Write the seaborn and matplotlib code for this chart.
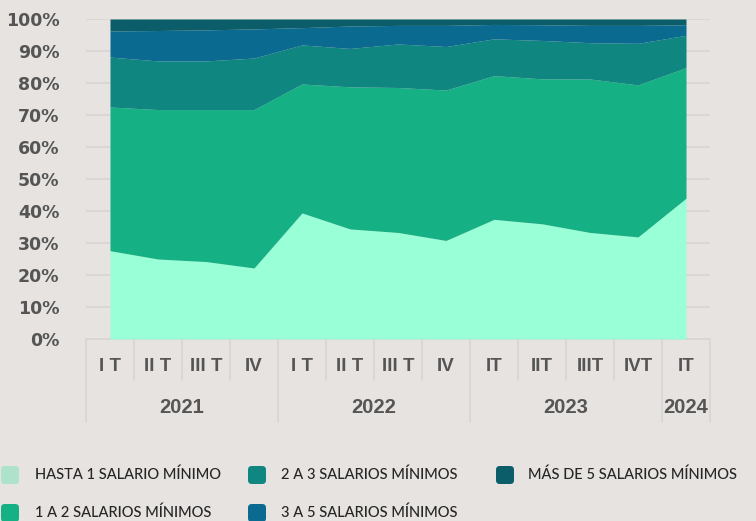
import numpy as np
import pandas as pd
import matplotlib
matplotlib.use("Agg")
import matplotlib.pyplot as plt
import matplotlib.transforms as mtransforms
from matplotlib.patches import FancyBboxPatch
import seaborn as sns

# ---------------- data ----------------
quarters = ["I T", "II T", "III T", "IV", "I T", "II T", "III T", "IV",
            "IT", "IIT", "IIIT", "IVT", "IT"]
years = ["2021", "2022", "2023", "2024"]
year_sizes = [4, 4, 4, 1]

series_names = ["HASTA 1 SALARIO MÍNIMO", "1 A 2 SALARIOS MÍNIMOS",
                "2 A 3 SALARIOS MÍNIMOS", "3 A 5 SALARIOS MÍNIMOS",
                "MÁS DE 5 SALARIOS MÍNIMOS"]
hasta1 = [27.6, 25.0, 24.2, 22.2, 39.4, 34.4, 33.3, 30.8, 37.4, 36.0, 33.3, 31.9, 44.0]
uno_a_dos = [44.9, 46.7, 47.5, 49.5, 40.3, 44.4, 45.3, 47.0, 44.9, 45.3, 47.95, 47.5, 40.8]
dos_a_tres = [15.6, 15.2, 15.2, 16.1, 12.2, 12.0, 13.6, 13.6, 11.5, 12.0, 11.35, 13.0, 10.1]
tres_a_cinco = [8.15, 9.5, 9.7, 9.1, 5.4, 7.0, 5.8, 6.6, 4.5, 4.9, 5.4, 5.6, 3.3]
mas_de_cinco = [3.75, 3.6, 3.4, 3.1, 2.7, 2.2, 2.0, 2.0, 1.7, 1.8, 2.0, 2.0, 1.8]

yticks = [0, 10, 20, 30, 40, 50, 60, 70, 80, 90, 100]
ytick_labels = [f"{v}%" for v in yticks]

area_colors = ["#99FFD6", "#15B184", "#0F8680", "#0A6A8F", "#0B5E69"]
swatch_colors = ["#ADE2CB", "#15B184", "#0F8680", "#0A6A8F", "#0B5E69"]

df = pd.DataFrame({
    "x": np.arange(len(quarters)),
    series_names[0]: hasta1,
    series_names[1]: uno_a_dos,
    series_names[2]: dos_a_tres,
    series_names[3]: tres_a_cinco,
    series_names[4]: mas_de_cinco,
})

# ---------------- style ----------------
bg = "#E6E3E0"
grid_c = "#D7D6D4"
txt_c = "#555555"
sns.set_theme(style="white", rc={"figure.facecolor": bg, "axes.facecolor": bg})
plt.rcParams["font.family"] = ["Lato", "DejaVu Sans"]

W, H = 756, 521
fig = plt.figure(figsize=(W / 100, H / 100), dpi=100)
ax_l, ax_r, ax_t, ax_b = 86, 710, 19, 339
ax = fig.add_axes([ax_l / W, 1 - ax_b / H, (ax_r - ax_l) / W, (ax_b - ax_t) / H])
ax.set_facecolor(bg)

ax.stackplot(df["x"], [df[n] for n in series_names], colors=area_colors,
             linewidth=0, zorder=2)

ax.set_xlim(-0.5, len(quarters) - 0.5)
ax.set_ylim(0, 100)
ax.set_yticks(yticks)
ax.set_yticklabels(ytick_labels, fontdict={"family": ["DejaVu Sans"],
                                            "weight": "bold", "size": 12.5})
ax.yaxis.grid(True, color=grid_c, linewidth=1.2, zorder=0)
ax.set_axisbelow(True)
for s in ax.spines.values():
    s.set_visible(False)
ax.tick_params(axis="y", length=0, pad=19, labelcolor=txt_c)
ax.set_xticks([])

# ---------------- category table under the axis ----------------
trans = mtransforms.blended_transform_factory(ax.transData, ax.transAxes)
ph = ax_b - ax_t
y_q = -(380 - ax_b) / ph
y_y = -(422 - ax_b) / ph
ax.plot([-0.5, len(quarters) - 0.5], [0, 0], transform=trans, color=grid_c,
        lw=1.2, clip_on=False, zorder=1)
year_bounds = np.cumsum([0] + year_sizes)
for k in range(len(quarters) + 1):
    yb = y_y if k in year_bounds else y_q
    ax.plot([k - 0.5, k - 0.5], [0, yb], transform=trans, color=grid_c,
            lw=1.2, clip_on=False)
for i, q in enumerate(quarters):
    ax.text(i, -(366.5 - ax_b) / ph, q, transform=trans, ha="center", va="center",
            fontsize=13.5, fontweight="bold", color=txt_c,
            family=["Liberation Sans Narrow", "Liberation Sans", "DejaVu Sans"])
for j, yr in enumerate(years):
    c = (year_bounds[j] + year_bounds[j + 1] - 1) / 2
    ax.text(c, -(407.5 - ax_b) / ph, yr, transform=trans, ha="center", va="center",
            fontsize=14.5, fontweight="bold", color=txt_c,
            family=["Liberation Sans", "DejaVu Sans"])

# ---------------- legend ----------------
leg_pos = [(0, 475), (0, 513), (247, 475), (247, 513), (495, 475)]
text_x = [35, 35, 281, 281, 528]
for name, col, (sx, sy), tx in zip(series_names, swatch_colors, leg_pos, text_x):
    p = FancyBboxPatch(((sx + 1) / W, 1 - (sy + 9) / H), 18 / W, 18 / H,
                       boxstyle="round,pad=0,rounding_size=0.005",
                       transform=fig.transFigure, facecolor=col, edgecolor="none",
                       mutation_aspect=W / H)
    fig.patches.append(p)
    fig.text(tx / W, 1 - sy / H, name, ha="left", va="center", fontsize=10.5,
             color="#262626", fontweight="medium", family=["Lato", "DejaVu Sans"])

fig.savefig("out.png", dpi=100, facecolor=bg)
